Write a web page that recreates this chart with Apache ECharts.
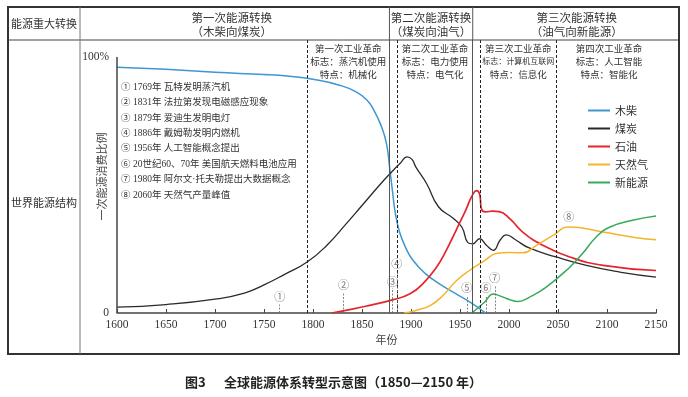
<!DOCTYPE html>
<html>
<head>
<meta charset="utf-8">
<script src="https://cdn.jsdelivr.net/npm/echarts@6/dist/echarts.min.js"></script>
<style>
html,body{margin:0;padding:0;background:#fff}
#main{width:688px;height:397px}
</style>
</head>
<body>
<div id="main"></div>
<script>
// 各能源占一次能源消费比例（%）
var woodData = [[1600,96],[1650,95.2],[1700,94],[1750,93.2],[1776,92.5],[1800,91.3],[1827,89],[1844,86.4],[1855,83.2],[1863,78.6],[1870,72.7],[1875,66.2],[1878,57.5],[1881,47.9],[1884,39],[1888,32],[1894,26],[1902,20.6],[1915,15.3],[1929,11.4],[1946,7.5],[1963,3.6],[1976,0]];
var coalData = [[1600,2.3],[1650,3.3],[1700,5.4],[1730,7.8],[1750,11],[1772,15.3],[1794,19.9],[1814,26.4],[1834,34.9],[1850,42],[1868,50],[1880,55],[1889,58.5],[1896,61],[1901,60],[1905,57],[1916,50.5],[1928,41.5],[1943,37],[1952,33.5],[1958,27.5],[1963,27],[1970,29],[1977,26.5],[1984,24.5],[1991,28.5],[1997,30.5],[2007,28.5],[2020,25.5],[2048,21.9],[2079,18.6],[2113,16],[2150,14]];
var oilData = [[1819,0],[1840,1.5],[1858,3],[1882,5.2],[1899,7.5],[1912,11.4],[1926,17.9],[1936,24.5],[1946,32.3],[1956,40.3],[1962,45.5],[1967,47.8],[1970,46.5],[1972,40.5],[1976,39.5],[1983,39.8],[1990,39.6],[2001,36.8],[2014,31.6],[2035,26.4],[2062,21.9],[2096,18.6],[2150,16.6]];
var gasData = [[1893,0],[1905,1],[1920,3],[1933,7],[1946,12.5],[1960,16.7],[1974,20.2],[1988,23.3],[2000,23.6],[2014,23.5],[2028,26.4],[2045,30.3],[2061,33.6],[2096,31.6],[2130,29.4],[2150,28.6]];
var renewData = [[1962,0],[1975,4.2],[1984,7.4],[1990,6.8],[2001,5.2],[2009,4.5],[2021,6.2],[2038,10.1],[2062,17.9],[2075,23.2],[2089,29.7],[2103,33.6],[2126,36.2],[2150,37.9]];

var seriesNames = ['木柴', '煤炭', '石油', '天然气', '新能源'];

// 分界线（年份）
var transitionYears = [1878, 1963];          // 能源转换分界（实线）
var revolutionYears = [1794, 1886, 1971, 2048]; // 工业革命分界（虚线）

// 事件标注
var markerLabels = ['①','②','③','④','⑤','⑥','⑦','⑧'];
var markerYears = [1766, 1831, 1881, 1885.5, 1957, 1976.5, 1985.5, 2061];
var markerLabelValues = [5.7, 10.4, 11.8, 18.6, 9.2, 9.2, 13.2, 36.9];
var markerLineTops = [3.3, 7.6, 9.8, 16.5, 6.8, 6.8, 10.8, 0];

var eventNotes = [
    '① 1769年 瓦特发明蒸汽机',
    '② 1831年 法拉第发现电磁感应现象',
    '③ 1879年 爱迪生发明电灯',
    '④ 1886年 戴姆勒发明内燃机',
    '⑤ 1956年 人工智能概念提出',
    '⑥ 20世纪60、70年 美国航天燃料电池应用',
    '⑦ 1980年 阿尔文·托夫勒提出大数据概念',
    '⑧ 2060年 天然气产量峰值'
];

var transitionTitles = [
    ['第一次能源转换', '（木柴向煤炭）'],
    ['第二次能源转换', '（煤炭向油气）'],
    ['第三次能源转换', '（油气向新能源）']
];
var revolutionTexts = [
    ['第一次工业革命', '标志：蒸汽机使用', '特点：机械化'],
    ['第二次工业革命', '标志：电力使用', '特点：电气化'],
    ['第三次工业革命', '标志：计算机互联网', '特点：信息化'],
    ['第四次工业革命', '标志：人工智能', '特点：智能化']
];

var CJK = "'Noto Sans CJK SC'";
var SERIF = "'Liberation Serif', 'Noto Sans CJK SC'";

function curve(name, data, color, width) {
    return {
        name: name,
        type: 'line',
        data: data,
        symbol: 'none',
        showSymbol: false,
        smooth: 0.5,
        silent: true,
        z: 3,
        itemStyle: { color: color },
        lineStyle: { color: color, width: width }
    };
}

var guideLines = [];
transitionYears.forEach(function (y) {
    guideLines.push({ xAxis: y, lineStyle: { type: 'solid', color: '#555', width: 1 } });
});
revolutionYears.forEach(function (y) {
    guideLines.push({ xAxis: y, lineStyle: { type: [3, 2], color: '#222', width: 1 } });
});
// y 轴线 0~100%
guideLines.push([{ coord: [1600, 0], lineStyle: { type: 'solid', color: '#444', width: 1.5 } }, { coord: [1600, 100] }]);
markerYears.forEach(function (y, i) {
    if (markerLineTops[i] > 0) {
        guideLines.push([{ coord: [y, 0], lineStyle: { type: [2, 1.5], color: '#666', width: 0.8 } }, { coord: [y, markerLineTops[i]] }]);
    }
});

var option = {
    animation: false,
    backgroundColor: '#fff',
    grid: { left: 117, right: 32, top: 40, bottom: 84 },
    legend: {
        data: seriesNames,
        orient: 'vertical',
        left: 588,
        top: 105,
        padding: 0,
        itemWidth: 22,
        itemHeight: 2,
        itemGap: 7,
        icon: 'rect',
        textStyle: { fontSize: 11, color: '#333', fontFamily: CJK }
    },
    xAxis: {
        type: 'value',
        min: 1600,
        max: 2150,
        interval: 50,
        name: '年份',
        nameLocation: 'middle',
        nameGap: 21,
        nameMoveOverlap: false,
        nameTextStyle: { fontSize: 11, color: '#444', fontFamily: CJK },
        axisLine: { lineStyle: { color: '#444', width: 1.5 } },
        axisTick: { inside: true, length: 4, lineStyle: { color: '#444' } },
        axisLabel: { fontSize: 11.5, color: '#333', margin: 6, fontFamily: SERIF,
            formatter: function (v) { return String(v); } },
        splitLine: { show: false }
    },
    yAxis: {
        type: 'value',
        min: 0,
        max: 106.64,
        interval: 100,
        name: '一次能源消费比例',
        nameLocation: 'middle',
        nameRotate: 90,
        nameGap: 10,
        nameMoveOverlap: false,
        nameTextStyle: { fontSize: 11, color: '#444', fontFamily: CJK },
        axisLine: { show: false },
        axisTick: { show: false },
        splitLine: { show: false },
        axisLabel: {
            fontSize: 11.5, color: '#333', margin: 8, fontFamily: SERIF,
            formatter: function (v) { return v === 0 ? '0' : (v === 100 ? '100%' : ''); }
        }
    },
    series: [
        curve('木柴', woodData, '#3f97cf', 1.5),
        curve('煤炭', coalData, '#2a2a2a', 1.3),
        curve('石油', oilData, '#e5242b', 1.7),
        curve('天然气', gasData, '#f3b52c', 1.5),
        curve('新能源', renewData, '#37a95a', 1.5),
        {
            name: 'guides',
            type: 'line',
            data: [[1600, 0]],
            symbol: 'none',
            lineStyle: { width: 0 },
            silent: true,
            z: 2,
            markLine: {
                silent: true,
                symbol: ['none', 'none'],
                label: { show: false },
                animation: false,
                data: guideLines
            }
        },
        {
            name: 'markers',
            type: 'scatter',
            data: markerYears.map(function (y, i) { return [y, markerLabelValues[i], markerLabels[i]]; }),
            symbolSize: 1,
            silent: true,
            z: 4,
            itemStyle: { color: 'transparent' },
            label: {
                show: true,
                position: 'inside',
                formatter: function (p) { return p.value[2]; },
                fontSize: 11,
                color: '#555',
                fontFamily: SERIF
            }
        }
    ]
};

var chart = echarts.init(document.getElementById('main'));
chart.setOption(option);

function px(year) { return chart.convertToPixel({ xAxisIndex: 0 }, year); }

var tableLeft = 8, tableTop = 7, tableRight = 679, tableBottom = 354;
var headBottom = 40, colDivider = 80;
var xa = px(transitionYears[0]), xb = px(transitionYears[1]);
var rb = revolutionYears.map(px);

var g = [];
g.push({ type: 'rect', shape: { x: tableLeft, y: tableTop, width: tableRight - tableLeft, height: tableBottom - tableTop },
    style: { fill: 'none', stroke: '#333', lineWidth: 2 }, z: 10 });
g.push({ type: 'line', shape: { x1: tableLeft, y1: headBottom, x2: tableRight, y2: headBottom },
    style: { stroke: '#444', lineWidth: 1 }, z: 10 });
g.push({ type: 'line', shape: { x1: colDivider, y1: tableTop, x2: colDivider, y2: tableBottom },
    style: { stroke: '#777', lineWidth: 1 }, z: 10 });
[xa, xb].forEach(function (x) {
    g.push({ type: 'line', shape: { x1: x, y1: tableTop, x2: x, y2: headBottom },
        style: { stroke: '#555', lineWidth: 1 }, z: 10 });
});

function txt(text, x, y, size, align) {
    return { type: 'text', z: 10, style: { text: text, x: x, y: y, fill: '#333', font: size + 'px ' + CJK,
        textAlign: align || 'center', textVerticalAlign: 'middle' } };
}

g.push(txt('能源重大转换', (tableLeft + colDivider) / 2, 24, 11));
g.push(txt('世界能源结构', (tableLeft + colDivider) / 2, 203, 11));

var tCenters = [(colDivider + xa) / 2 - 3, (xa + xb) / 2, (xb + tableRight) / 2 + 1];
transitionTitles.forEach(function (t, i) {
    g.push(txt(t[0], tCenters[i], 17.5, 11.5));
    g.push(txt(t[1], tCenters[i], 31.5, 11.5));
});

var rCenters = [(rb[0] + xa) / 2, (rb[1] + xb) / 2, (rb[2] + rb[3]) / 2, (rb[3] + 662) / 2];
revolutionTexts.forEach(function (t, i) {
    g.push(txt(t[0], rCenters[i], 48, 9.5));
    g.push(txt(t[1], rCenters[i], 61, t[1].length > 8 ? 8 : 9.5));
    g.push(txt(t[2], rCenters[i], 74, 9.5));
});

eventNotes.forEach(function (n, i) {
    g.push({ type: 'text', z: 10, style: { text: n, x: 121, y: 87.3 + i * 15.4, fill: '#333', font: '9.5px ' + SERIF,
        textAlign: 'left', textVerticalAlign: 'middle' } });
});

g.push({ type: 'text', style: { text: '图3', x: 185, y: 382.5, fill: '#222', font: 'bold 13px ' + CJK, textAlign: 'left', textVerticalAlign: 'middle' } });
g.push({ type: 'text', style: { text: '全球能源体系转型示意图（1850—2150 年）', x: 224, y: 382.5, fill: '#222', font: 'bold 13px ' + CJK, textAlign: 'left', textVerticalAlign: 'middle' } });

chart.setOption({ graphic: g });
</script>
</body>
</html>
